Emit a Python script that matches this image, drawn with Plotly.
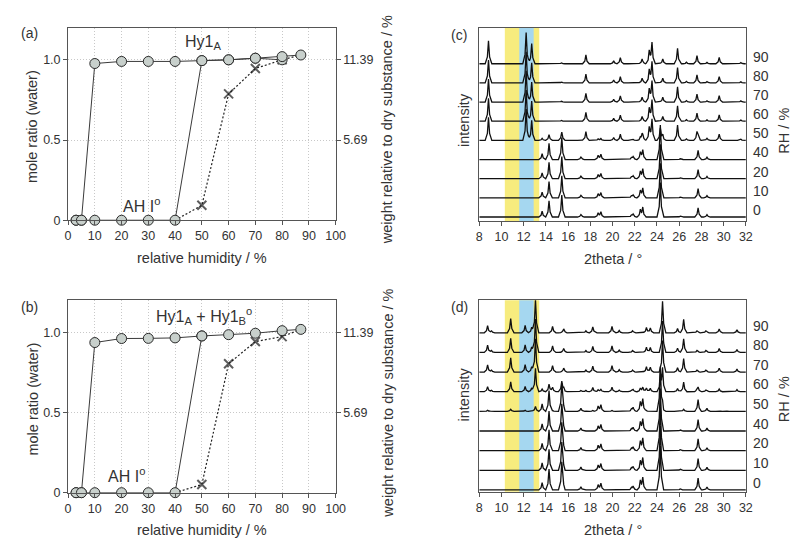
import numpy as np
import plotly.graph_objects as go

W, H = 800, 544
FONT = "Liberation Sans, Arial, sans-serif"
TXT = "#333333"
FRAME = "#555555"

# ---------------- panel (a) data ----------------
a_rh1 = [3, 5, 10, 20, 30, 40, 50, 60, 70, 80, 87]
a_mole1 = [0, 0, 0.977, 0.99, 0.99, 0.99, 0.995, 1.0, 1.01, 1.02, 1.03]
a_rh2 = [3, 5, 10, 20, 30, 40, 50, 60, 70, 80]
a_mole2 = [0, 0, 0, 0, 0, 0, 0.995, 1.0, 1.01, 1.0]
a_rh_w = [40, 50, 60, 70, 80, 87]
a_weight = [0, 0.093, 0.788, 0.946, 1.0, 1.03]

# ---------------- panel (b) data ----------------
b_rh1 = [3, 5, 10, 20, 30, 40, 50, 60, 70, 80, 87]
b_mole1 = [0, 0, 0.936, 0.961, 0.962, 0.965, 0.977, 0.985, 0.994, 1.01, 1.018]
b_rh2 = [3, 5, 10, 20, 30, 40, 50]
b_mole2 = [0, 0, 0, 0, 0, 0, 0.977]
b_rh_w = [40, 50, 60, 70, 80, 87]
b_weight = [0, 0.051, 0.804, 0.942, 0.973, 1.018]
w_marker_on = [0, 1, 1, 1, 1, 0]

left_ticks = [0, 0.5, 1.0]
left_ticktext = ["0", "0.5", "1.0"]
right_ticks = [0.5, 1.0]
right_ticktext = ["5.69", "11.39"]
rh_ticks = list(range(0, 101, 10))

# ---------------- XRPD data (c), (d) ----------------
rh_levels = ["0", "10", "20", "40", "50", "60", "70", "80", "90"]
ah_pos = [13.66, 14.28, 15.43, 17.15, 18.7, 18.95, 21.7, 21.85, 22.5, 22.72, 24.3, 26.1, 27.7, 28.5, 30.2]
ah_int = [0.30, 0.85, 1.15, 0.13, 0.20, 0.26, 0.08, 0.14, 0.35, 0.48, 1.80, 0.04, 0.48, 0.12, 0.03]
hyA_pos = [8.83, 12.22, 12.72, 15.4, 17.6, 20.1, 20.7, 22.66, 23.3, 23.55, 24.52, 25.85, 26.65, 27.6, 28.5, 29.6, 31.55]
hyA_int = [1.20, 1.63, 1.05, 0.04, 0.46, 0.15, 0.32, 0.25, 0.65, 1.08, 0.25, 0.80, 0.08, 0.42, 0.07, 0.33, 0.06]
hyB_pos = [8.75, 9.1, 10.83, 12.13, 12.72, 13.06, 14.6, 15.6, 17.6, 18.22, 19.95, 20.6, 21.8,
           23.05, 23.4, 24.5, 25.85, 26.4, 27.6, 28.4, 29.6, 31.2]
hyB_int = [0.37, 0.10, 0.72, 0.38, 0.28, 1.70, 0.33, 0.20, 0.10, 0.30, 0.33, 0.12, 0.10,
           0.27, 0.25, 1.60, 0.22, 0.69, 0.10, 0.10, 0.20, 0.15]
c_frac_ah = [1, 1, 1, 1, 0.35, 0, 0, 0, 0]
c_frac_hy = [0, 0, 0, 0, 1, 1, 1, 1, 1]
d_frac_ah = [1.25, 1.25, 1.25, 1.2, 1.25, 0.45, 0, 0, 0]
d_frac_hy = [0, 0, 0, 0, 0.15, 0.7, 1, 1, 1]
band_yellow = [10.3, 13.4]
band_blue = [11.6, 12.9]
two_theta_range = [8, 32]


def pattern(pos, inten, base):
    knots = {float(two_theta_range[0]), float(two_theta_range[1])}
    for p in pos:
        knots.update([p - 0.3, p - 0.1, p, p + 0.1, p + 0.3])
    xs = np.array(sorted(k for k in knots if two_theta_range[0] <= k <= two_theta_range[1]))
    ys = np.full_like(xs, float(base))
    for p, h in zip(pos, inten):
        if h <= 0:
            continue
        ys += h * np.interp(xs, [p - 0.3, p - 0.1, p, p + 0.1, p + 0.3],
                            [0, 0.3, 1, 0.3, 0], left=0, right=0)
    return xs, ys


def px(xp, yp):
    return xp / W, 1 - yp / H


fig = go.Figure()

CIRC = dict(symbol="circle", size=10, color="#c8d0cc", line=dict(width=1, color="#2a2a2a"))


def add_dvs(xa, ya, ya2, rh1, m1, rh2, m2, rhw, w):
    fig.add_trace(go.Scatter(x=rh1, y=m1, mode="lines", line=dict(color="#3a3a3a", width=1),
                             xaxis=xa, yaxis=ya, showlegend=False, hoverinfo="skip"))
    fig.add_trace(go.Scatter(x=rh2, y=m2, mode="lines", line=dict(color="#3a3a3a", width=1),
                             xaxis=xa, yaxis=ya, showlegend=False, hoverinfo="skip"))
    fig.add_trace(go.Scatter(x=rhw, y=w, mode="lines+markers",
                             line=dict(color="#222", width=1.2, dash="2px,2px"),
                             marker=dict(symbol="x-thin", size=[9 * k for k in w_marker_on],
                                         line=dict(width=2, color="#1a1a1a")),
                             xaxis=xa, yaxis=ya, showlegend=False, cliponaxis=False))
    fig.add_trace(go.Scatter(x=rh2, y=m2, mode="markers", marker=CIRC, cliponaxis=False,
                             xaxis=xa, yaxis=ya, showlegend=False))
    fig.add_trace(go.Scatter(x=rh1, y=m1, mode="markers", marker=CIRC, cliponaxis=False,
                             xaxis=xa, yaxis=ya, showlegend=False))
    fig.add_trace(go.Scatter(x=[rh1[0]], y=[m1[0]], mode="markers", marker=dict(opacity=0),
                             xaxis=xa, yaxis=ya2, showlegend=False, hoverinfo="skip"))


add_dvs("x", "y", "y2", a_rh1, a_mole1, a_rh2, a_mole2, a_rh_w, a_weight)
add_dvs("x2", "y3", "y4", b_rh1, b_mole1, b_rh2, b_mole2, b_rh_w, b_weight)


def add_xrd(xa, ya, frac_ah, frac_hy, hy_pos, hy_int):
    for i, lab in enumerate(rh_levels):
        pos = list(ah_pos) + list(hy_pos)
        inten = [v * frac_ah[i] for v in ah_int] + [v * frac_hy[i] for v in hy_int]
        xs, ys = pattern(pos, inten, i)
        fig.add_trace(go.Scatter(x=xs, y=ys, mode="lines", line=dict(color="#111", width=1.3),
                                 xaxis=xa, yaxis=ya, showlegend=False, hoverinfo="skip"))


add_xrd("x3", "y5", c_frac_ah, c_frac_hy, hyA_pos, hyA_int)
add_xrd("x4", "y6", d_frac_ah, d_frac_hy, hyB_pos, hyB_int)

# domains (pixel-derived)
dom_ax = [58 / W, 330 / W]
dom_cx = [476 / W, 747 / W]
dom_ay = [1 - 215 / H, 1 - 20 / H]
dom_by = [1 - 491 / H, 1 - 296 / H]
dom_cy = [1 - 216 / H, 1 - 20 / H]
dom_dy = [1 - 490 / H, 1 - 296 / H]

tickfont = dict(family=FONT, size=12.5, color=TXT)
rh_x = dict(range=[0, 100], tickvals=rh_ticks, ticks="outside", ticklen=4, tickcolor=FRAME,
            showline=True, linecolor=FRAME, linewidth=1, mirror=True, showgrid=True,
            gridcolor="#c8c8c8", griddash="1px,2px", gridwidth=1, zeroline=False, tickfont=tickfont)
mole_y = dict(range=[0, 1.2], tickvals=left_ticks, ticktext=left_ticktext, ticks="outside", ticklen=4,
              tickcolor=FRAME, showline=True, linecolor=FRAME, linewidth=1, mirror=True,
              showgrid=True, gridcolor="#c8c8c8", griddash="1px,2px", gridwidth=1, zeroline=False,
              tickfont=tickfont)
right_y = dict(range=[0, 1.2], tickvals=right_ticks, ticktext=right_ticktext, ticks="outside",
               ticklen=4, tickcolor=FRAME, side="right", showline=False, showgrid=False,
               zeroline=False, tickfont=tickfont)
tt_x = dict(range=two_theta_range, dtick=2, tick0=8, ticks="outside", ticklen=4, tickcolor=FRAME,
            showline=True, linecolor=FRAME, linewidth=1, mirror=True, showgrid=False,
            zeroline=False, tickfont=tickfont)
int_y = dict(showticklabels=False, ticks="", showline=True, linecolor=FRAME, linewidth=1,
             mirror=True, showgrid=False, zeroline=False)

fig.update_layout(
    width=W, height=H, margin=dict(l=0, r=0, t=0, b=0),
    paper_bgcolor="white", plot_bgcolor="white",
    font=dict(family=FONT, color=TXT),
    xaxis=dict(domain=dom_ax, anchor="y", **rh_x),
    yaxis=dict(domain=dom_ay, anchor="x", **mole_y),
    yaxis2=dict(overlaying="y", anchor="x", **right_y),
    xaxis2=dict(domain=dom_ax, anchor="y3", **rh_x),
    yaxis3=dict(domain=dom_by, anchor="x2", **mole_y),
    yaxis4=dict(overlaying="y3", anchor="x2", **right_y),
    xaxis3=dict(domain=dom_cx, anchor="y5", **tt_x),
    yaxis5=dict(domain=dom_cy, anchor="x3", range=[-0.22, 9.88], **int_y),
    xaxis4=dict(domain=dom_cx, anchor="y6", **tt_x),
    yaxis6=dict(domain=dom_dy, anchor="x4", range=[-0.09, 9.66], **int_y),
)

# colour bands
for xa, ya in [("x3", "y5"), ("x4", "y6")]:
    fig.add_shape(type="rect", xref=xa, yref=ya + " domain", x0=band_yellow[0], x1=band_yellow[1],
                  y0=0, y1=1, fillcolor="#f7ec7e", line=dict(width=0), layer="below")
    fig.add_shape(type="rect", xref=xa, yref=ya + " domain", x0=band_blue[0], x1=band_blue[1],
                  y0=0, y1=1, fillcolor="#a5d7f0", line=dict(width=0), layer="below")

ann = []


def ptext(text, xp, yp, size=14.5, angle=0, xanchor="center"):
    x, y = px(xp, yp)
    ann.append(dict(text=text, x=x, y=y, xref="paper", yref="paper", showarrow=False,
                    textangle=angle, xanchor=xanchor, yanchor="middle",
                    font=dict(family=FONT, size=size, color=TXT)))


# panel labels
ptext("(a)", 19, 25, 14)
ptext("(b)", 19, 303, 14)
ptext("(c)", 455, 27, 14)
ptext("(d)", 456, 303, 14)
# axis titles
ptext("relative humidity / %", 194, 253)
ptext("relative humidity / %", 194, 529)
ptext("mole ratio (water)", 22, 120, angle=-90)
ptext("mole ratio (water)", 22, 396, angle=-90)
ptext("weight relative to dry substance / %", 383, 123, angle=-90)
ptext("weight relative to dry substance / %", 383, 400, angle=-90)
ptext("2theta / °", 612, 254)
ptext("2theta / °", 612, 529)
ptext("intensity", 460, 114, angle=-90)
ptext("intensity", 460, 392, angle=-90)
ptext("RH / %", 786, 124, angle=-90)
ptext("RH / %", 786, 396, angle=-90)

# phase labels in data coordinates
for text, xa, ya, x, y in [("Hy1<sub>A</sub>", "x", "y", 50.4, 1.11),
                           ("AH I<sup>o</sup>", "x", "y", 27.6, 0.093),
                           ("Hy1<sub>A</sub> + Hy1<sub>B</sub><sup>o</sup>", "x2", "y3", 50.7, 1.10),
                           ("AH I<sup>o</sup>", "x2", "y3", 22, 0.113)]:
    ann.append(dict(text=text, x=x, y=y, xref=xa, yref=ya, showarrow=False,
                    font=dict(family=FONT, size=16, color=TXT)))

# RH labels at the right of the patterns
for ya in ["y5", "y6"]:
    for i, lab in enumerate(rh_levels):
        ann.append(dict(text=lab, x=752 / W, y=i + 0.37, xref="paper", yref=ya, showarrow=False,
                        xanchor="left", yanchor="middle",
                        font=dict(family=FONT, size=14, color=TXT)))

fig.update_layout(annotations=ann)
fig.write_html("out.html")
